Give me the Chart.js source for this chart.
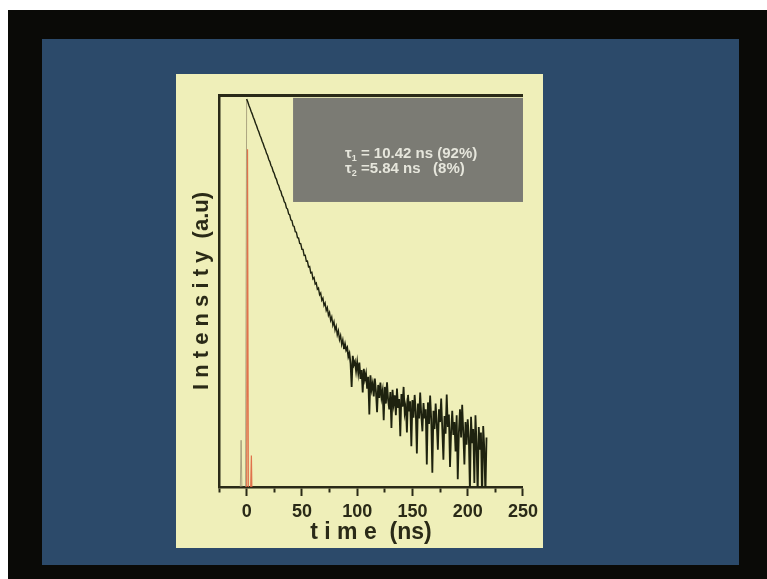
<!DOCTYPE html>
<html>
<head>
<meta charset="utf-8">
<script src="https://cdn.jsdelivr.net/npm/chart.js@4.4.1/dist/chart.umd.min.js"></script>
<style>
  html, body { margin: 0; padding: 0; width: 767px; height: 579px; overflow: hidden; background: #ffffff; }
  #frame { position: absolute; left: 8px; top: 10px; width: 759px; height: 569px; background: #0a0a07; }
  #slide { position: absolute; left: 42px; top: 39px; width: 697px; height: 526px; background: #2c4a6a; }
  #panel { position: absolute; left: 176px; top: 74px; width: 367px; height: 474px; background: #efefb9; }
</style>
</head>
<body>
<div id="frame"></div>
<div id="slide"></div>
<div id="panel"><canvas id="decay"></canvas></div>
<script>
// Fluorescence decay, 1 ns channels starting at -8 ns (counts, log axis)
const decayStartNs = -8;
const channelNs = 1;
const decayCounts = [
  0.6, 0.5, 0.6, 3.0, 0.6, 0.5, 0.5, 0.7,
  // 0 - 9 ns
  9100, 8520, 7880, 7390, 6840, 6420, 5930, 5580, 5150, 4850,
  // 10 - 19 ns
  4480, 4210, 3890, 3660, 3380, 3180, 2930, 2770, 2540, 2410,
  // 20 - 29 ns
  2200, 2090, 1910, 1820, 1660, 1580, 1440, 1380, 1250, 1195,
  // 30 - 39 ns
  1085, 1040, 940, 905, 815, 790, 705, 685, 612, 598,
  // 40 - 49 ns
  532, 522, 462, 456, 403, 398, 350, 347, 305, 303,
  // 50 - 59 ns
  266, 266, 231, 232, 201, 202, 176, 178, 153, 155,
  // 60 - 69 ns
  133, 137, 118, 121, 104, 107, 91.5, 95.5, 80.4, 84.6,
  // 70 - 79 ns
  71, 75.4, 63.2, 67.8, 56.4, 60.6, 50.1, 54.3, 44.6, 48.7,
  // 80 - 89 ns
  39.8, 43.8, 35.6, 39.3, 31.8, 35.2, 28.4, 31.9, 25.5, 28.7,
  // 90 - 99 ns
  25.0, 26.4, 21.4, 23.1, 18.3, 10.5, 21.8, 17.7, 19.1, 15.2,
  // 100 - 109 ns
  18.8, 14.5, 18.6, 12.7, 15.6, 9.2, 16.1, 12.6, 14.4, 10.1,
  // 110 - 119 ns
  13.3, 5.5, 13.8, 9.9, 11.4, 8.4, 12.8, 9.4, 5.8, 11.0,
  // 120 - 129 ns
  8.1, 11.6, 8.2, 9.6, 4.8, 10.5, 7.1, 11.7, 7.7, 6.2,
  // 130 - 139 ns
  9.3, 4.0, 9.8, 7.0, 8.6, 5.4, 10.1, 6.4, 7.9, 3.3,
  // 140 - 149 ns
  8.9, 6.6, 10.5, 5.7, 6.7, 3.6, 8.7, 5.9, 7.5, 2.6,
  // 150 - 159 ns
  7.7, 5.1, 8.7, 5.9, 2.2, 7.1, 5.0, 9.2, 5.4, 3.7,
  // 160 - 169 ns
  7.2, 5.0, 6.2, 1.7, 7.3, 4.4, 8.6, 4.9, 1.4, 6.0,
  // 170 - 179 ns
  3.9, 7.1, 4.4, 2.4, 6.2, 4.6, 8.0, 3.9, 1.9, 5.3,
  // 180 - 189 ns
  3.5, 8.8, 4.1, 5.5, 1.6, 3.7, 6.0, 3.4, 4.6, 2.3,
  // 190 - 199 ns
  5.4, 1.2, 3.6, 6.2, 3.2, 6.9, 3.6, 1.7, 4.6, 2.7,
  // 200 - 209 ns
  4.9, 3.2, 0.89, 5.2, 2.8, 3.9, 1.1, 5.4, 2.8, 0.84,
  // 210 - 217 ns
  4.1, 2.4, 3.6, 0.72, 4.2, 2.5, 0.81, 3.2
];

// Instrument response function
const irfTimeNs = [-2, 0, 0.8, 1.6, 3.2, 4.3, 5.0, 7];
const irfCounts = [0.5, 0.6, 2800, 0.6, 0.6, 2.1, 0.6, 0.5];

// Axis ticks
const xMin = -25, xMax = 250, xStep = 25;
const xLabelValues = [0, 50, 100, 150, 200, 250];
const yMin = 1, yMax = 10000;

// Fit result box (data coordinates) and its lines
const fitBoxX = [42, 250];
const fitBoxY = [810, 9350];
const fitLines = [
  { sym: 'τ', sub: '1', text: ' = 10.42 ns (92%)' },
  { sym: 'τ', sub: '2', text: ' =5.84 ns   (8%)' }
];

const ink = '#2a2a17';
const fontFamily = '"Liberation Sans", Arial, sans-serif';

const decayPoints = decayCounts.map((c, i) => ({ x: decayStartNs + i * channelNs, y: c }));
const irfPoints = irfTimeNs.map((t, i) => ({ x: t, y: irfCounts[i] }));

const fitBoxPlugin = {
  id: 'fitBox',
  beforeDatasetsDraw(chart) {
    const { ctx, scales: { x, y } } = chart;
    const left = x.getPixelForValue(fitBoxX[0]);
    const right = x.getPixelForValue(fitBoxX[1]);
    const top = y.getPixelForValue(fitBoxY[1]);
    const bottom = y.getPixelForValue(fitBoxY[0]);
    ctx.save();
    ctx.fillStyle = '#7b7b74';
    ctx.fillRect(left, top, right - left, bottom - top);
    ctx.fillStyle = '#e6e6dc';
    ctx.textBaseline = 'alphabetic';
    fitLines.forEach((ln, i) => {
      let tx = left + 52;
      const ty = top + 60 + i * 15;
      ctx.font = 'bold 15px ' + fontFamily;
      ctx.fillText(ln.sym, tx, ty);
      tx += ctx.measureText(ln.sym).width;
      ctx.font = 'bold 9px ' + fontFamily;
      ctx.fillText(ln.sub, tx, ty + 3);
      tx += ctx.measureText(ln.sub).width;
      ctx.font = 'bold 15px ' + fontFamily;
      ctx.fillText(ln.text, tx, ty);
    });
    ctx.restore();
  }
};

// Channels before the excitation pulse (and the rising edge) are drawn faintly;
// the clean early decay is drawn thinner than the noisy tail
const preRise = c => c.p0.parsed.x < 0;
const earlyDecay = c => c.p0.parsed.x < 88;

new Chart(document.getElementById('decay'), {
  type: 'line',
  data: {
    datasets: [
      {
        label: 'IRF',
        data: irfPoints,
        borderColor: 'rgba(222, 100, 64, 0.9)',
        borderWidth: 1.2,
        pointRadius: 0,
        tension: 0
      },
      {
        label: 'Decay',
        data: decayPoints,
        borderColor: '#1e220f',
        borderWidth: 1.8,
        pointRadius: 0,
        tension: 0,
        segment: {
          borderColor: c => (preRise(c) ? 'rgba(150, 140, 110, 0.75)' : undefined),
          borderWidth: c => (preRise(c) ? 1 : (earlyDecay(c) ? 1.4 : undefined))
        }
      }
    ]
  },
  options: {
    responsive: true,
    maintainAspectRatio: false,
    animation: false,
    layout: { padding: { left: 0, right: 20, top: 0, bottom: 0 } },
    plugins: { legend: { display: false }, tooltip: { enabled: false } },
    scales: {
      x: {
        type: 'linear',
        position: 'bottom',
        min: xMin,
        max: xMax,
        ticks: {
          stepSize: xStep,
          autoSkip: false,
          maxRotation: 0,
          padding: 5,
          color: ink,
          font: { family: fontFamily, size: 18, weight: 'bold' },
          callback: v => (xLabelValues.includes(v) ? String(v) : '')
        },
        grid: {
          display: true,
          drawOnChartArea: false,
          drawTicks: true,
          tickLength: 9,
          tickWidth: 2,
          tickColor: ink,
          tickBorderDash: c => (c.tick && xLabelValues.includes(c.tick.value) ? [] : [4, 30])
        },
        border: { display: true, width: 2.5, color: ink },
        title: {
          display: true,
          text: 't i m e  (ns)',
          color: ink,
          font: { family: fontFamily, size: 23, weight: 'bold' },
          padding: { top: 0, bottom: 2 }
        },
        afterFit(scale) { scale.height = 61; }
      },
      xTop: {
        type: 'linear',
        axis: 'x',
        position: 'top',
        min: xMin,
        max: xMax,
        ticks: { display: false },
        grid: { display: false, drawTicks: false },
        border: { display: true, width: 3, color: ink },
        afterFit(scale) { scale.height = 21; }
      },
      y: {
        type: 'logarithmic',
        min: yMin,
        max: yMax,
        ticks: { display: false },
        grid: { display: false, drawTicks: false },
        border: { display: true, width: 2.5, color: ink },
        title: {
          display: true,
          text: 'I n t e n s i t y  (a.u)',
          color: ink,
          font: { family: fontFamily, size: 22, weight: 'bold' },
          padding: { top: 13, bottom: 0 }
        },
        afterFit(scale) { scale.width = 43; }
      }
    }
  },
  plugins: [fitBoxPlugin]
});
</script>
</body>
</html>
